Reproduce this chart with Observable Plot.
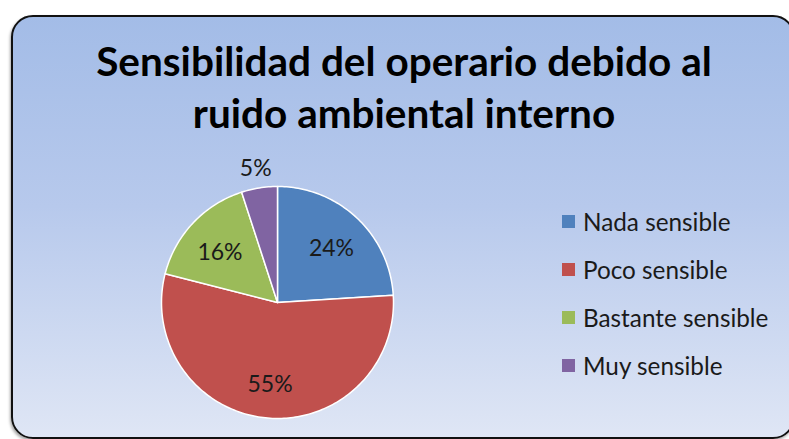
<!DOCTYPE html>
<html>
<head>
<meta charset="utf-8">
<script src="https://cdn.jsdelivr.net/npm/d3@7"></script>
<script src="https://cdn.jsdelivr.net/npm/@observablehq/plot@0.6"></script>
<style>
  html, body { margin: 0; padding: 0; background: #fff; }
  body { width: 789px; height: 439px; position: relative; overflow: hidden; font-family: Lato, "Open Sans", sans-serif; }
  #frame {
    position: absolute; left: 11px; top: 15px; width: 780px; height: 420px;
    border: 2px solid #111; border-radius: 22px;
    background: linear-gradient(to bottom, #a3bce7 0%, #b7c9ec 45%, #dfe6f5 100%);
    box-shadow: -1px 2px 3px rgba(0,0,0,0.35);
  }
  #title {
    position: absolute; left: 0; width: 808px; top: 35px; text-align: center;
    font-family: Lato, sans-serif; font-weight: 700; font-size: 40.5px; line-height: 52px; color: #000;
  }
  #chart { position: absolute; left: 0; top: 150px; }
  #legend { position: absolute; left: 562px; top: 197px; }
  .lg-swatches { display: flex !important; flex-direction: column; align-items: flex-start !important; font-family: Lato, sans-serif !important; font-size: 24.3px !important; color: #1a1a1a; margin: 0 !important; }
  .lg-swatch { height: 48px; display: flex !important; align-items: center; margin: 0 !important; }
  .lg-swatch > svg { margin-right: 8px !important; }
</style>
</head>
<body>
<div id="frame"></div>
<div id="title">Sensibilidad del operario debido al<br>ruido ambiental interno</div>
<div id="chart"></div>
<div id="legend"></div>
<script>
const categories = ["Nada sensible", "Poco sensible", "Bastante sensible", "Muy sensible"];
const values = [24, 55, 16, 5];
const colors = ["#4f81bd", "#c0504d", "#9bbb59", "#8064a2"];

const data = categories.map((c, i) => ({category: c, value: values[i]}));
const total = d3.sum(values);
const arcs = d3.pie().sort(null).value(d => d.value)(data);

// polygon outline for each slice (unit circle, y up)
const slicePts = [];
arcs.forEach(a => {
  const c = a.data.category;
  slicePts.push({category: c, x: 0, y: 0});
  const n = Math.max(4, Math.ceil((a.endAngle - a.startAngle) / 0.02));
  for (let k = 0; k <= n; k++) {
    const t = a.startAngle + (a.endAngle - a.startAngle) * k / n;
    slicePts.push({category: c, x: Math.sin(t), y: Math.cos(t)});
  }
  slicePts.push({category: c, x: 0, y: 0});
});

const labels = arcs.map(a => {
  const mid = (a.startAngle + a.endAngle) / 2;
  const small = a.data.value / total < 0.08;
  const r = small ? 1.2 : 0.68;
  return {
    category: a.data.category,
    text: Math.round(a.data.value / total * 100) + "%",
    x: Math.sin(mid) * r, y: Math.cos(mid) * r
  };
});

const R = 116, cx = 277, cy = 152;
const plot = Plot.plot({
  width: 789, height: 289,
  margin: 0,
  style: {background: "transparent", overflow: "visible"},
  x: {domain: [-1, 1], range: [cx - R, cx + R], axis: null},
  y: {domain: [-1, 1], range: [cy + R, cy - R], axis: null},
  color: {domain: categories, range: colors},
  marks: [
    Plot.line(slicePts, {x: "x", y: "y", z: "category", fill: "category", stroke: "#fff", strokeWidth: 1.5, strokeLinejoin: "round"}),
    Plot.text(labels, {x: "x", y: "y", dy: 4, text: "text", fontSize: 23, fontFamily: "Lato, sans-serif", fill: "#1a1a1a"})
  ]
});
document.getElementById("chart").appendChild(plot);

const leg = Plot.legend({
  color: {domain: categories, range: colors, type: "ordinal"},
  legend: "swatches",
  swatchSize: 13,
  className: "lg"
});
document.getElementById("legend").appendChild(leg);
</script>
</body>
</html>
